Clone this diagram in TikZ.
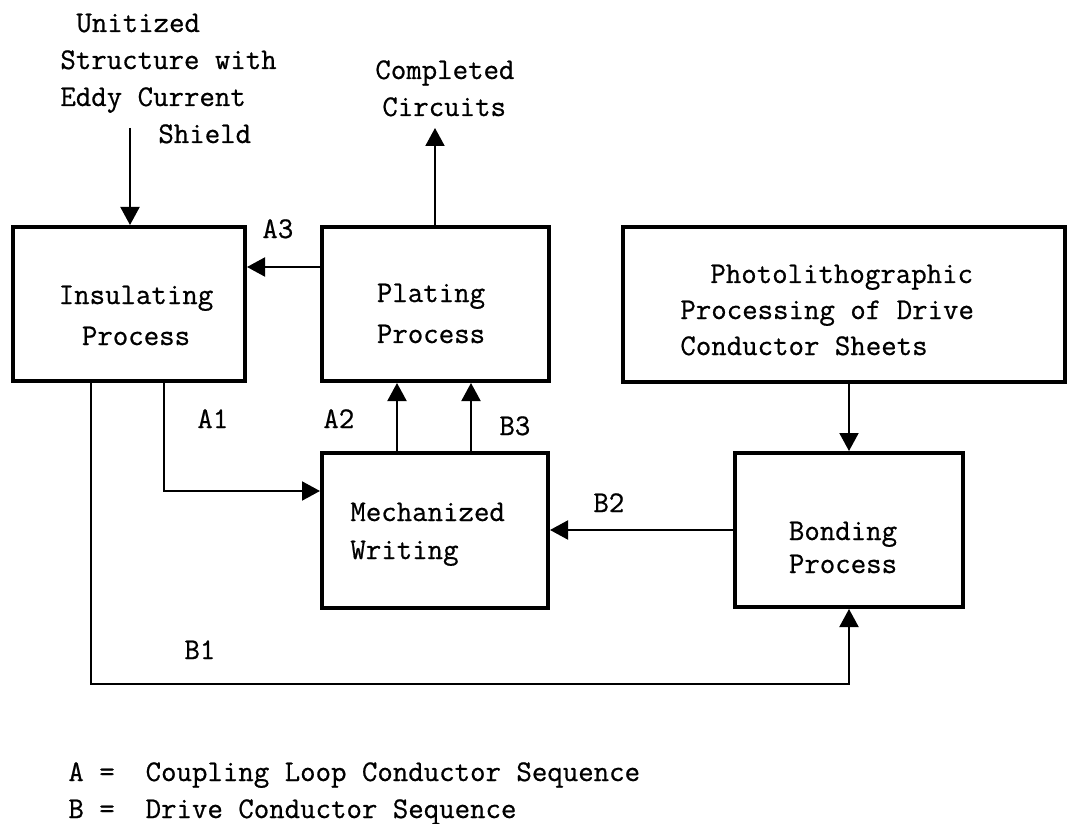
\documentclass[tikz,border=0pt]{standalone}
\usepackage{fontspec}
\newfontfamily\typefont{lmmono12-regular.otf}[FakeBold=0.7]
\usetikzlibrary{arrows.meta}
\tikzset{
  procbox/.style={draw,line width=2pt,inner sep=0pt},
  flow/.style={line width=1pt,-{Triangle[length=9pt,width=9.5pt]}},
  txt/.style={inner sep=0pt,anchor=base west,align=left},
  lsp/.style={font=\typefont\fontsize{15pt}{#1}\selectfont},
}
\begin{document}
\begin{tikzpicture}[x=0.5pt,y=-0.5pt,font=\typefont\fontsize{15pt}{18.5pt}\selectfont]
  \useasboundingbox (0,0) rectangle (1072,824);
  % process boxes
  \node[procbox,minimum width=116pt,minimum height=77pt] (ins) at (129,304) {};
  \node[procbox,minimum width=113.5pt,minimum height=77pt] (plat) at (435.5,304) {};
  \node[procbox,minimum width=221pt,minimum height=77.5pt] (photo) at (844,304.5) {};
  \node[procbox,minimum width=113pt,minimum height=77.5pt] (mech) at (435,530.5) {};
  \node[procbox,minimum width=114pt,minimum height=77pt] (bond) at (849,530) {};
  % box texts (base = last line)
  \node[txt,align=center,anchor=base,lsp=20.5pt] (insText) at (136,345) {Insulating\\Process};
  \node[txt,align=center,anchor=base,lsp=20.5pt] (platText) at (431,343) {Plating\\Process};
  \node[txt,lsp=18pt] (photoText) at (680,355)
    {\hspace*{15pt}Photolithographic\\Processing of Drive\\Conductor Sheets};
  \node[txt,lsp=19pt] (mechText) at (350,559) {Mechanized\\Writing};
  \node[txt,align=center,anchor=base,lsp=16.5pt] (bondText) at (843,573) {Bonding\\Process};
  % in and out
  \node[txt] (inText) at (60,143)
    {\hspace*{8pt}Unitized\\Structure with\\Eddy Current\\\hspace*{49pt}Shield};
  \node[txt] (outText) at (375,116) {Completed\\\hspace*{3.5pt}Circuits};
  \coordinate (inTop) at (130,128);
  \coordinate (outTip) at (435,128);
  \draw[flow] (inTop) -- (inTop |- ins.north);
  \draw[flow] (plat.north -| outTip) -- (outTip);
  % sequences
  \draw[flow] ([yshift=18.5pt]plat.west) -- ([yshift=18.5pt]ins.east);
  \draw[flow] ([xshift=17.5pt]ins.south) |- ([yshift=19.75pt]mech.west);
  \draw[flow] ([xshift=-19pt]mech.north) -- ([xshift=-19pt]mech.north |- plat.south);
  \draw[flow] ([xshift=18pt]mech.north) -- ([xshift=18pt]mech.north |- plat.south);
  \draw[flow] (bond.west) -- (bond.west -| mech.east);
  \draw[flow] (photo.south -| bond.north) -- (bond.north);
  \draw[flow] ([xshift=-19pt]ins.south) -- ++(0,301) -| (bond.south);
  \foreach \t/\x/\y in {A3/262/238,A1/197/428,A2/323/428,B3/499/435,B2/593/512,B1/184/659}
    \node[txt] (lab\t) at (\x,\y) {\t};
  % legend
  \node[txt] (legA) at (68,781) {A =\ \ Coupling Loop Conductor Sequence};
  \node[txt] (legB) at (68,818) {B =\ \ Drive Conductor Sequence};
\end{tikzpicture}
\end{document}
